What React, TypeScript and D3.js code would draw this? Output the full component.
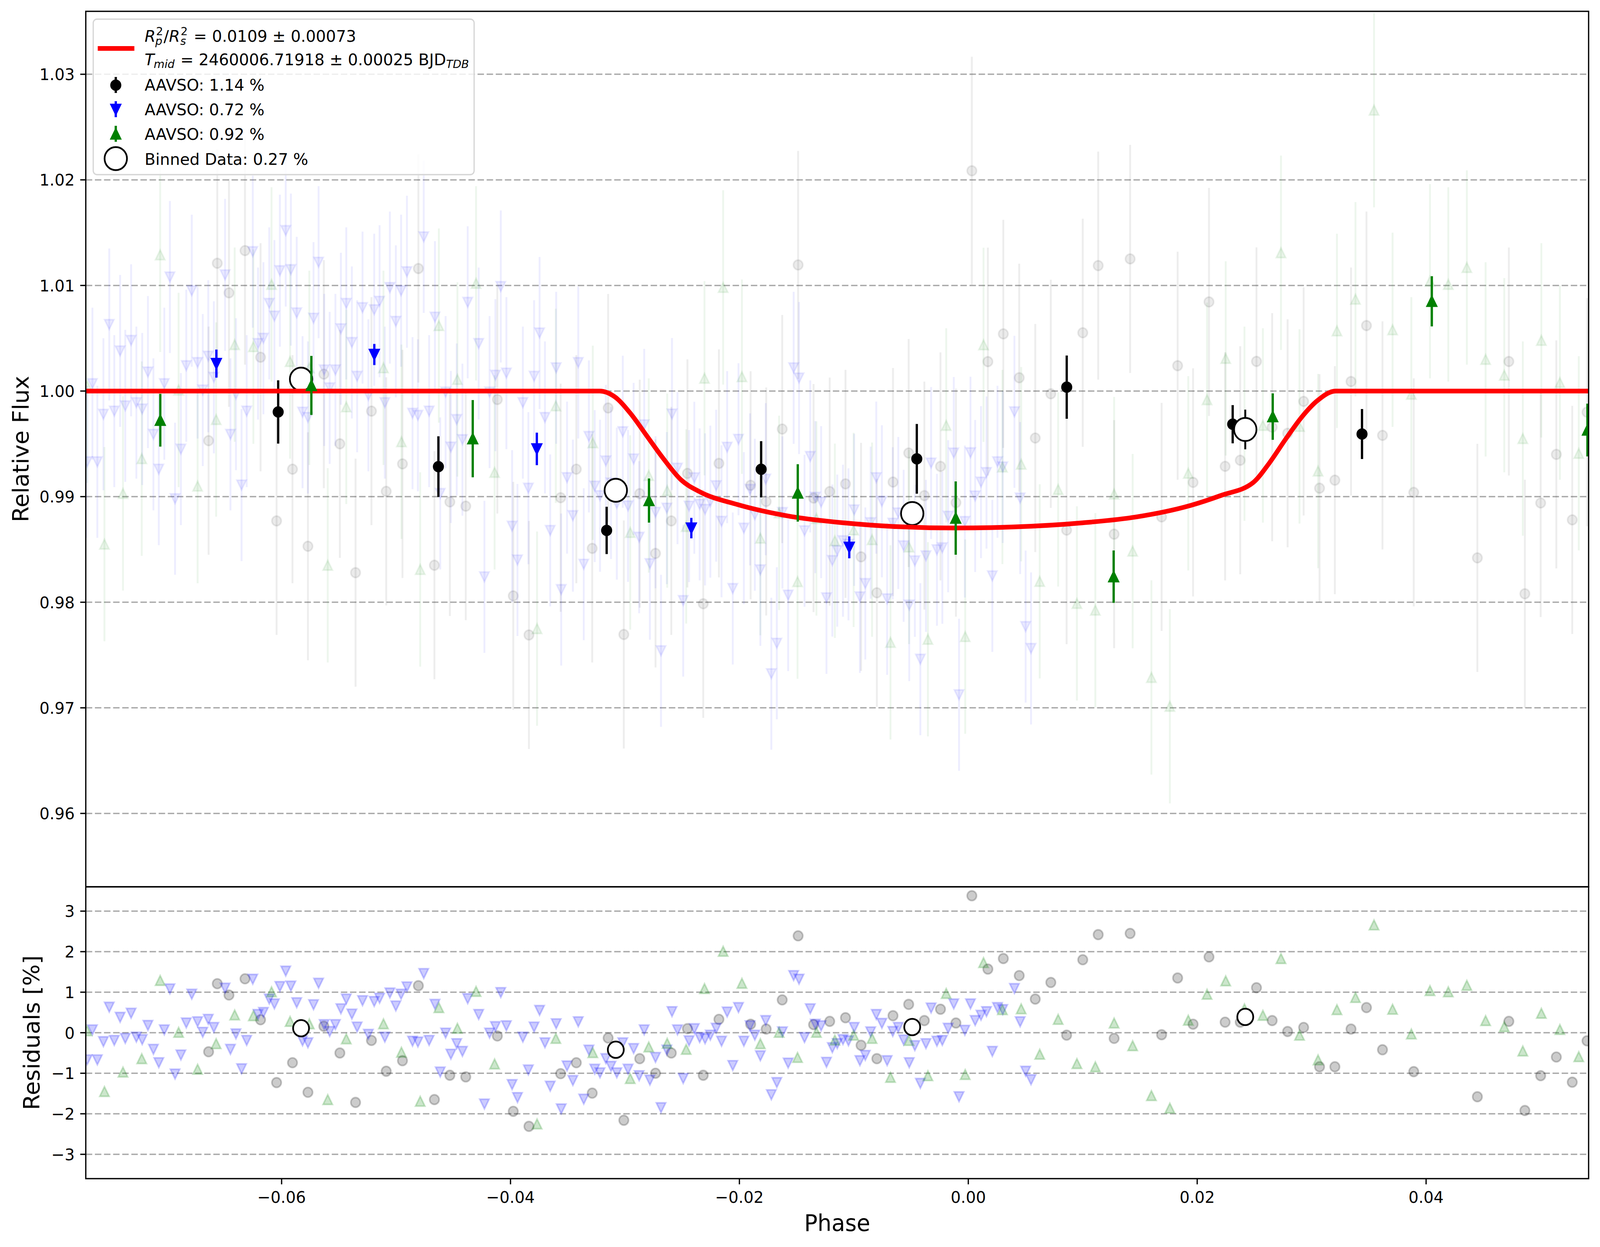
import React from 'react';
import * as d3 from 'd3';

if (typeof document !== 'undefined') {
  document.body.style.margin = '0';
  document.body.style.overflow = 'hidden';
}

// ---------------- DATA ----------------
const phaseDomain = [-0.07711, 0.0542];
const fluxDomain = [0.95305, 1.03596];
const resDomain = [-3.6, 3.6];

const xTicks = [-0.06, -0.04, -0.02, 0, 0.02, 0.04];
const fluxTicks = [0.96, 0.97, 0.98, 0.99, 1.0, 1.01, 1.02, 1.03];
const resTicks = [-3, -2, -1, 0, 1, 2, 3];

// transit model
const modelPhase = [-0.0322, -0.0309, -0.0295, -0.0281, -0.0267, -0.0251, -0.0235, -0.0202, -0.0156, -0.0109, -0.0063, -0.0012, 0.004, 0.01, 0.0147, 0.0193, 0.0221, 0.0249, 0.0263, 0.0277, 0.0291, 0.0305, 0.0321];
const modelFlux = [1.0, 0.99946, 0.99786, 0.99577, 0.99368, 0.99159, 0.99048, 0.98926, 0.98814, 0.98752, 0.98716, 0.98703, 0.98713, 0.98752, 0.98808, 0.98913, 0.99012, 0.99134, 0.99318, 0.9954, 0.99749, 0.99909, 1.0];

// AAVSO dataset 1 (black circles): phase, residual [%]
const grayPhase = [-0.06638, -0.06562, -0.0646, -0.0632, -0.06184, -0.06044, -0.05905, -0.0577, -0.05631, -0.05491, -0.05354, -0.05215, -0.05086, -0.04944, -0.04805, -0.04665, -0.0453, -0.04391, -0.04115, -0.03976, -0.03839, -0.03562, -0.03425, -0.03286, -0.03147, -0.0301, -0.02871, -0.02733, -0.02595, -0.02454, -0.02316, -0.02179, -0.01902, -0.01766, -0.01626, -0.01487, -0.01352, -0.01211, -0.01073, -0.00937, -0.00799, -0.00658, -0.00521, -0.00384, -0.00243, -0.00108, 0.00031, 0.00171, 0.00306, 0.00445, 0.00585, 0.00721, 0.00859, 0.01, 0.01135, 0.01274, 0.01414, 0.01689, 0.01829, 0.01964, 0.02103, 0.02244, 0.02376, 0.02518, 0.02655, 0.0279, 0.0293, 0.03069, 0.03203, 0.03344, 0.03479, 0.03619, 0.03892, 0.04448, 0.04723, 0.04863, 0.05001, 0.05138, 0.05277, 0.05406];
const grayRes = [-0.47, 1.21, 0.93, 1.33, 0.32, -1.23, -0.74, -1.47, 0.16, -0.5, -1.72, -0.19, -0.95, -0.69, 1.16, -1.65, -1.05, -1.09, -0.08, -1.94, -2.31, -1.01, -0.74, -1.49, -0.13, -2.16, -0.64, -1.0, -0.5, 0.1, -1.05, 0.33, 0.21, 0.09, 0.81, 2.39, 0.2, 0.28, 0.37, -0.31, -0.64, 0.42, 0.7, 0.3, 0.58, 0.24, 3.38, 1.57, 1.83, 1.41, 0.83, 1.24, -0.06, 1.8, 2.42, -0.14, 2.45, -0.05, 1.35, 0.21, 1.87, 0.26, 0.26, 1.11, 0.3, 0.03, 0.13, -0.84, -0.84, 0.09, 0.62, -0.42, -0.96, -1.58, 0.28, -1.92, -1.06, -0.6, -1.22, -0.2];
const grayErr = 0.0108;

// AAVSO dataset 2 (blue down-triangles)
const bluePhase = [-0.07699, -0.07653, -0.0761, -0.07557, -0.07506, -0.07462, -0.07411, -0.07366, -0.07315, -0.07269, -0.07218, -0.07168, -0.0712, -0.07073, -0.07025, -0.06976, -0.06931, -0.0688, -0.06833, -0.06785, -0.06734, -0.06689, -0.06641, -0.06592, -0.06494, -0.06447, -0.06399, -0.0635, -0.06305, -0.06252, -0.06206, -0.06159, -0.06108, -0.06063, -0.06015, -0.05964, -0.05919, -0.05868, -0.05817, -0.0577, -0.05721, -0.05677, -0.05628, -0.0558, -0.0553, -0.05482, -0.05435, -0.05386, -0.0534, -0.05293, -0.05242, -0.05191, -0.05144, -0.05098,
  -0.05054, -0.05002, -0.04956, -0.04905, -0.04856, -0.04809, -0.04758, -0.04711, -0.0466, -0.04614, -0.04567, -0.04521, -0.0447, -0.0442, -0.04374, -0.04278, -0.04228, -0.04183, -0.04132, -0.04085, -0.04036, -0.03986, -0.03939, -0.03892, -0.03844, -0.03794, -0.03746, -0.03699, -0.03653, -0.03601, -0.03557, -0.03506, -0.03455, -0.03408, -0.0336, -0.03315, -0.03264, -0.03218, -0.03167, -0.03122, -0.03071, -0.03019, -0.02973, -0.02924, -0.02876, -0.02832, -0.02782, -0.02733, -0.02685, -0.02634, -0.02589, -0.02541,
  -0.02491, -0.0244, -0.02394, -0.02347, -0.023, -0.02254, -0.02203, -0.02156, -0.02107, -0.02058, -0.02008, -0.01961, -0.01907, -0.01865, -0.01817, -0.0177, -0.01721, -0.01673, -0.01624, -0.01574, -0.01526, -0.01479, -0.01431, -0.01381, -0.01337, -0.01286, -0.01239, -0.01188, -0.01145, -0.01095, -0.01047, -0.00997, -0.00947, -0.009, -0.00853, -0.00804, -0.00755, -0.00709, -0.0066, -0.00612, -0.00565, -0.00516, -0.00467, -0.00419, -0.0037, -0.00325, -0.00274, -0.00227, -0.00176, -0.00127, -0.00081, -0.0003, 0.00019,
  0.0006, 0.00111, 0.00159, 0.0021, 0.00255, 0.00301, 0.00403, 0.00453, 0.00501, 0.00548];
const blueRes = [-0.67, 0.07, -0.67, -0.22, 0.63, -0.19, 0.38, -0.14, 0.48, -0.11, -0.17, 0.18, -0.41, -0.74, 0.07, 1.08, -1.02, -0.55, 0.24, 0.95, 0.27, 0.01, 0.33, 0.13, 1.1, -0.41, -0.03, -0.89, -0.19, 1.32, 0.45, 0.5, 0.83, 0.71, 1.14, 1.52, 1.15, 0.74, -0.2, -0.25, 0.69, 1.22, 0.2, 0.03, 0.2, 0.59, 0.83, 0.46, 0.14, 0.79, -0.04, 0.77, 0.85, -0.11,
  0.98, 0.66, 0.95, 1.13, -0.21, -0.23, 1.46, -0.19, 0.7, -0.97, -0.01, -0.53, -0.27, -0.46, 0.84, 0.45, -1.76, -0.01, 0.15, 0.99, 0.17, -1.28, -1.6, -0.11, -0.92, 0.14, 0.55, -0.25, -1.32, 0.22, -1.88, -0.82, -1.18, 0.27, -1.64, -0.43, -0.9, -0.99, -0.64, -0.83, -0.99, -0.25, -0.9, -0.39, -1.06, 0.07, -1.17, -0.61, -1.85, -0.43, 0.52, 0.07,
  -1.13, -0.2, 0.1, -0.12, -0.15, -0.06, 0.11, -0.21, 0.51, -0.81, 0.62, -0.21, 0.17, -0.06, -0.57, 0.3, -1.53, -1.23, 0.02, -0.75, 1.41, 1.32, -0.12, 0.59, 0.21, 0.17, -0.73, -0.37, -0.27, -0.17, -0.2, 0.13, -0.69, -0.56, 0.02, 0.45, 0.23, -0.69, 0.03, 0.13, -0.18, -0.74, -0.32, -1.25, -0.27, 0.61, -0.21, -0.19, 0.11, 0.71, -1.58, 0.06, 0.71,
  0.3, 0.43, 0.52, -0.46, 0.62, 0.57, 1.09, 0.27, -0.95, -1.16];
const blueErr = 0.0072;

// AAVSO dataset 3 (green up-triangles)
const greenPhase = [-0.077, -0.07548, -0.07386, -0.07222, -0.07061, -0.069, -0.06734, -0.06572, -0.0641, -0.06247, -0.06088, -0.05926, -0.05758, -0.05597, -0.05435, -0.0511, -0.04953, -0.04789, -0.04626, -0.04464, -0.04301, -0.04139, -0.03768, -0.03604, -0.03281, -0.02954, -0.02792, -0.02631, -0.02465, -0.02305, -0.02142, -0.01978, -0.01817, -0.01653, -0.01492, -0.01327, -0.01166, -0.01002, -0.00841, -0.0068, -0.00518, -0.00353, -0.00193, -0.00027, 0.00133, 0.00298, 0.00462, 0.00624, 0.00785, 0.00949, 0.0111, 0.01274, 0.01436, 0.016, 0.01761, 0.01922, 0.02086, 0.02249, 0.02413, 0.02574, 0.02732, 0.02894, 0.03056, 0.03221, 0.03383, 0.03545, 0.03707, 0.03871, 0.04034, 0.04194, 0.04356, 0.0452, 0.04683, 0.04845, 0.05007, 0.05169, 0.05334];
const greenRes = [0.05, -1.45, -0.97, -0.64, 1.29, 0.01, -0.9, -0.27, 0.44, 0.42, 1.01, 0.28, 0.22, -1.65, -0.15, 0.22, -0.48, -1.69, 0.62, 0.11, 1.02, -0.77, -2.25, -0.14, -0.49, -1.13, -0.35, -0.26, -0.41, 1.09, 2.01, 1.22, -0.27, 0.01, -0.61, 0.01, -0.18, -0.06, -0.14, -1.1, -0.19, -1.06, 0.97, -1.03, 1.73, 0.57, 0.59, -0.53, 0.33, -0.76, -0.84, 0.24, -0.32, -1.55, -1.86, 0.31, 0.95, 1.28, 0.59, 0.43, 1.83, -0.06, -0.67, 0.57, 0.87, 2.66, 0.58, -0.03, 1.04, 1.01, 1.17, 0.3, 0.15, -0.45, 0.48, 0.08, -0.59];
const greenErr = 0.0092;

// per-dataset binned points (top panel)
const blackBinPhase = [-0.0603, -0.0463, -0.0316, -0.0181, -0.0045, 0.0086, 0.0231, 0.0344];
const blackBinFlux = [0.99802, 0.99284, 0.9868, 0.99259, 0.99358, 1.00037, 0.99686, 0.99593];
const blackBinErr = [0.003, 0.00288, 0.00224, 0.00266, 0.0033, 0.003, 0.00181, 0.00237];

const blueBinPhase = [-0.0657, -0.0519, -0.0377, -0.0242, -0.0104];
const blueBinFlux = [1.0026, 1.00346, 0.99452, 0.98702, 0.9852];
const blueBinErr = [0.00133, 0.001, 0.00154, 0.00097, 0.00104];

const greenBinPhase = [-0.0706, -0.0574, -0.0433, -0.0279, -0.0149, -0.0011, 0.0127, 0.0266, 0.0405, 0.0541];
const greenBinFlux = [0.99724, 1.00053, 0.99549, 0.98963, 0.99035, 0.98797, 0.98242, 0.99758, 1.0085, 0.99631];
const greenBinErr = [0.0025, 0.0028, 0.00366, 0.00209, 0.00272, 0.00347, 0.00248, 0.0022, 0.00238, 0.0025];

// combined binned data (open circles)
const binPhase = [-0.0583, -0.0308, -0.0049, 0.0242];
const binFlux = [1.00113, 0.9906, 0.9884, 0.99636];
const binFluxErr = [0.0007, 0.0007, 0.0007, 0.00188];
const binRes = [0.11, -0.42, 0.14, 0.39];

const legendLabels = ['AAVSO: 1.14 %', 'AAVSO: 0.72 %', 'AAVSO: 0.92 %', 'Binned Data: 0.27 %'];

// ---------------- STYLE / LAYOUT ----------------
const W = 4215;
const H = 3192;
const L = { left: 226, right: 4185, top: 29, mid: 2270, bottom: 3017 };
const FONT = 'DejaVu Sans';
const TICK_FS = 41.7;
const LABEL_FS = 58.3;
const MS = 12.5; // half marker size
const GRID = '#aaaaaa';

type Kind = 'o' | 'v' | '^';

function markerPath(kind: Kind, s: number) {
  if (kind === 'v') return `M0,${s}L${-s},${-s}L${s},${-s}Z`;
  if (kind === '^') return `M0,${-s}L${-s},${s}L${s},${s}Z`;
  return '';
}

function Marker({ kind, cx, cy, s, color, alpha, sw = 4.17 }: { kind: Kind; cx: number; cy: number; s: number; color: string; alpha: number; sw?: number }) {
  if (kind === 'o') {
    return <circle cx={cx} cy={cy} r={s} fill={color} fillOpacity={alpha} stroke={color} strokeOpacity={alpha} strokeWidth={sw} />;
  }
  return <path d={markerPath(kind, s)} transform={`translate(${cx},${cy})`} fill={color} fillOpacity={alpha} stroke={color} strokeOpacity={alpha} strokeWidth={sw} strokeLinejoin="miter" />;
}

export default function App() {
  const x = d3.scaleLinear().domain(phaseDomain).range([L.left, L.right]);
  const yF = d3.scaleLinear().domain(fluxDomain).range([L.mid, L.top]);
  const yR = d3.scaleLinear().domain(resDomain).range([L.bottom, L.mid]);
  const model = d3.scaleLinear().domain([-1, ...modelPhase, 1]).range([1, ...modelFlux, 1]).clamp(true);

  const fmt2 = d3.format('.2f');
  const fmtI = d3.format('d');

  const raw = [
    { kind: 'o' as Kind, color: '#000000', phase: grayPhase, res: grayRes, err: grayErr },
    { kind: 'v' as Kind, color: '#0000ff', phase: bluePhase, res: blueRes, err: blueErr },
    { kind: '^' as Kind, color: '#008000', phase: greenPhase, res: greenRes, err: greenErr },
  ].map((s) => ({
    ...s,
    pts: s.phase.map((p, i) => ({ p, r: s.res[i], f: model(p) + s.res[i] / 100 })),
  }));

  const binnedSeries = [
    { kind: 'o' as Kind, color: '#000000', phase: blackBinPhase, flux: blackBinFlux, err: blackBinErr },
    { kind: 'v' as Kind, color: '#0000ff', phase: blueBinPhase, flux: blueBinFlux, err: blueBinErr },
    { kind: '^' as Kind, color: '#008000', phase: greenBinPhase, flux: greenBinFlux, err: greenBinErr },
  ];

  const lineGen = d3
    .line<[number, number]>()
    .x((d) => x(d[0]))
    .y((d) => yF(d[1]))
    .curve(d3.curveMonotoneX);
  const modelPts: [number, number][] = [[-0.09, 1], ...modelPhase.map((p, i) => [p, modelFlux[i]] as [number, number]), [0.07, 1]];
  const modelPath = lineGen(modelPts) || '';

  const renderBinned = (s: (typeof binnedSeries)[number], key: string) => (
    <g key={key}>
      {s.phase.map((p, i) => (
        <line key={'e' + i} x1={x(p)} x2={x(p)} y1={yF(s.flux[i] - s.err[i])} y2={yF(s.flux[i] + s.err[i])} stroke={s.color} strokeWidth={6} />
      ))}
      {s.phase.map((p, i) => (
        <Marker key={'m' + i} kind={s.kind} cx={x(p)} cy={yF(s.flux[i])} s={MS} color={s.color} alpha={1} />
      ))}
    </g>
  );

  const tickLen = 14.6;
  const axisW = 3.33;

  const legX = 305;
  const legendRowY = [218, 280, 343, 406];
  const legendBaseline = [232, 295, 358, 422];

  return (
    <svg
      width="100vw"
      height="100vh"
      viewBox={`0 0 ${W} ${H}`}
      preserveAspectRatio="none"
      style={{ display: 'block', position: 'fixed', left: 0, top: 0, background: '#ffffff' }}
      fontFamily={FONT}
    >
      <rect x={0} y={0} width={W} height={H} fill="#ffffff" />
      <defs>
        <clipPath id="clipTop">
          <rect x={L.left} y={L.top} width={L.right - L.left} height={L.mid - L.top} />
        </clipPath>
        <clipPath id="clipRes">
          <rect x={L.left} y={L.mid} width={L.right - L.left} height={L.bottom - L.mid} />
        </clipPath>
      </defs>

      {/* ---------- TOP PANEL ---------- */}
      <g clipPath="url(#clipTop)">
        {fluxTicks.map((t) => (
          <line key={'gf' + t} x1={L.left} x2={L.right} y1={yF(t)} y2={yF(t)} stroke={GRID} strokeWidth={3.5} strokeDasharray="17 7" />
        ))}
        {raw.map((s, si) => (
          <g key={'rawtop' + si}>
            {s.pts.map((d, i) => (
              <line key={'e' + i} x1={x(d.p)} x2={x(d.p)} y1={yF(d.f - s.err)} y2={yF(d.f + s.err)} stroke={s.color} strokeOpacity={0.07} strokeWidth={5} />
            ))}
            {s.pts.map((d, i) => (
              <Marker key={'m' + i} kind={s.kind} cx={x(d.p)} cy={yF(d.f)} s={MS} color={s.color} alpha={0.08} />
            ))}
          </g>
        ))}
        {renderBinned(binnedSeries[0], 'bk')}
        {renderBinned(binnedSeries[1], 'bb')}
        <g>
          {binPhase.map((p, i) => (
            <line key={'be' + i} x1={x(p)} x2={x(p)} y1={yF(binFlux[i] - binFluxErr[i])} y2={yF(binFlux[i] + binFluxErr[i])} stroke="#000" strokeWidth={5} />
          ))}
          {binPhase.map((p, i) => (
            <circle key={'bc' + i} cx={x(p)} cy={yF(binFlux[i])} r={29.5} fill="#ffffff" stroke="#000000" strokeWidth={4.5} />
          ))}
        </g>
        <path d={modelPath} fill="none" stroke="#ff0000" strokeWidth={12} strokeLinejoin="round" />
        {renderBinned(binnedSeries[2], 'bg')}
      </g>

      {/* ---------- RESIDUAL PANEL ---------- */}
      <g clipPath="url(#clipRes)">
        {resTicks.map((t) => (
          <line key={'gr' + t} x1={L.left} x2={L.right} y1={yR(t)} y2={yR(t)} stroke={GRID} strokeWidth={3.5} strokeDasharray="17 7" />
        ))}
        {raw.map((s, si) => (
          <g key={'rawres' + si}>
            {s.pts.map((d, i) => (
              <Marker key={'m' + i} kind={s.kind} cx={x(d.p)} cy={yR(d.r)} s={MS} color={s.color} alpha={0.2} />
            ))}
          </g>
        ))}
        {binPhase.map((p, i) => (
          <circle key={'rc' + i} cx={x(p)} cy={yR(binRes[i])} r={21} fill="#ffffff" stroke="#000000" strokeWidth={4.5} />
        ))}
      </g>

      {/* ---------- AXES ---------- */}
      <rect x={L.left} y={L.top} width={L.right - L.left} height={L.mid - L.top} fill="none" stroke="#000" strokeWidth={axisW} />
      <rect x={L.left} y={L.mid} width={L.right - L.left} height={L.bottom - L.mid} fill="none" stroke="#000" strokeWidth={axisW} />

      {fluxTicks.map((t) => (
        <g key={'tf' + t}>
          <line x1={L.left - tickLen} x2={L.left} y1={yF(t)} y2={yF(t)} stroke="#000" strokeWidth={axisW} />
          <text x={L.left - tickLen - 14.6} y={yF(t) + 0.36 * TICK_FS} textAnchor="end" fontSize={TICK_FS}>
            {fmt2(t)}
          </text>
        </g>
      ))}
      {resTicks.map((t) => (
        <g key={'tr' + t}>
          <line x1={L.left - tickLen} x2={L.left} y1={yR(t)} y2={yR(t)} stroke="#000" strokeWidth={axisW} />
          <text x={L.left - tickLen - 14.6} y={yR(t) + 0.36 * TICK_FS} textAnchor="end" fontSize={TICK_FS}>
            {fmtI(t)}
          </text>
        </g>
      ))}
      {xTicks.map((t) => (
        <g key={'tx' + t}>
          <line x1={x(t)} x2={x(t)} y1={L.bottom} y2={L.bottom + tickLen} stroke="#000" strokeWidth={axisW} />
          <text x={x(t)} y={3079} textAnchor="middle" fontSize={TICK_FS}>
            {fmt2(t)}
          </text>
        </g>
      ))}

      <text x={(L.left + L.right) / 2} y={3151} textAnchor="middle" fontSize={LABEL_FS}>
        Phase
      </text>
      <text transform={`translate(75,${(L.top + L.mid) / 2}) rotate(-90)`} textAnchor="middle" fontSize={LABEL_FS}>
        Relative Flux
      </text>
      <text transform={`translate(104,${(L.mid + L.bottom) / 2}) rotate(-90)`} textAnchor="middle" fontSize={LABEL_FS}>
        Residuals [%]
      </text>

      {/* ---------- LEGEND ---------- */}
      <g>
        <rect x={245.6} y={49} width={1003.4} height={398} rx={10} ry={10} fill="#ffffff" fillOpacity={0.8} stroke="#d6d6d6" strokeWidth={3.3} />
        <line x1={257.5} x2={354} y1={124} y2={124} stroke="#ff0000" strokeWidth={12} />
        <text fontSize={TICK_FS} y={107}>
          <tspan x={381} y={107} fontStyle="italic">R</tspan>
          <tspan x={411} y={90} fontSize={29.2}>2</tspan>
          <tspan x={409} y={115} fontSize={29.2} fontStyle="italic">p</tspan>
          <tspan x={431} y={107}>/</tspan>
          <tspan x={445} y={107} fontStyle="italic">R</tspan>
          <tspan x={476} y={90} fontSize={29.2}>2</tspan>
          <tspan x={475} y={115} fontSize={29.2} fontStyle="italic">s</tspan>
          <tspan x={497} y={107}>{' = 0.0109 ± 0.00073'}</tspan>
        </text>
        <text fontSize={TICK_FS} y={167}>
          <tspan x={381} y={167} fontStyle="italic">T</tspan>
          <tspan x={405} y={174} fontSize={29.2} fontStyle="italic">mid</tspan>
          <tspan x={462} y={167}>{' = 2460006.71918 ± 0.00025 BJD'}</tspan>
          <tspan y={174} fontSize={29.2} fontStyle="italic">TDB</tspan>
        </text>
        {/* errorbar handles */}
        {binnedSeries.map((s, i) => (
          <g key={'lh' + i}>
            <line x1={legX} x2={legX} y1={legendRowY[i] - 21} y2={legendRowY[i] + 20} stroke={s.color} strokeWidth={6} />
            <Marker kind={s.kind} cx={legX} cy={legendRowY[i]} s={MS} color={s.color} alpha={1} />
          </g>
        ))}
        <circle cx={legX} cy={legendRowY[3]} r={29.5} fill="#ffffff" stroke="#000" strokeWidth={4.5} />
        {legendLabels.map((lab, i) => (
          <text key={'ll' + i} x={381} y={legendBaseline[i]} fontSize={TICK_FS}>
            {lab}
          </text>
        ))}
      </g>
    </svg>
  );
}
